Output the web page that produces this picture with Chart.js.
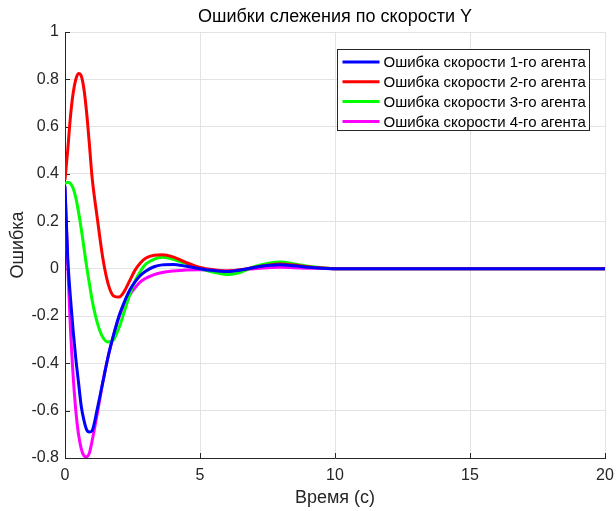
<!DOCTYPE html>
<html>
<head>
<meta charset="utf-8">
<script src="https://cdn.jsdelivr.net/npm/chart.js@4.4.1/dist/chart.umd.min.js"></script>
<style>
  html, body { margin: 0; padding: 0; background: #fff; }
  #wrap { width: 616px; height: 511px; }
</style>
</head>
<body>
<div id="wrap"><canvas id="errChart" width="616" height="511"></canvas></div>
<script>
// Время (с)
const times = [0, 0.1, 0.2, 0.3, 0.4, 0.5, 0.6, 0.7, 0.8, 0.9, 1.0, 1.2, 1.4, 1.6, 1.8, 2.0,
  2.2, 2.4, 2.6, 2.8, 3.0, 3.3, 3.6, 4.0, 4.5, 5.0, 5.5, 6.0, 6.5, 7.0, 7.5, 8.0, 8.5,
  9.0, 9.5, 10, 11, 12, 14, 16, 18, 20];

// ошибки скорости по агентам
const agent1 = [0.35, 0.05, -0.12, -0.26, -0.38, -0.48, -0.58, -0.64, -0.68, -0.69, -0.685,
  -0.59, -0.48, -0.37, -0.28, -0.20, -0.14, -0.09, -0.055, -0.028, -0.01, 0.008, 0.016, 0.018,
  0.01, 0.0, -0.008, -0.012, -0.006, 0.005, 0.013, 0.017, 0.012, 0.006, 0.002, 0, 0, 0, 0, 0, 0, 0];
const agent2 = [0.375, 0.50, 0.64, 0.74, 0.80, 0.825, 0.815, 0.76, 0.66, 0.53, 0.39,
  0.21, 0.045, -0.065, -0.115, -0.12, -0.095, -0.05, -0.005, 0.025, 0.045, 0.057, 0.059, 0.05,
  0.025, 0.005, -0.005, -0.01, -0.005, 0.005, 0.015, 0.02, 0.015, 0.008, 0.003, 0, 0, 0, 0, 0, 0, 0];
const agent3 = [0.36, 0.365, 0.36, 0.34, 0.30, 0.24, 0.17, 0.09, 0.01, -0.06, -0.13,
  -0.23, -0.29, -0.31, -0.30, -0.25, -0.18, -0.11, -0.05, -0.01, 0.02, 0.04, 0.048, 0.04,
  0.02, 0.0, -0.015, -0.025, -0.015, 0.008, 0.022, 0.028, 0.02, 0.01, 0.004, 0, 0, 0, 0, 0, 0, 0];
const agent4 = [0.34, 0.02, -0.25, -0.45, -0.60, -0.70, -0.76, -0.79, -0.795, -0.78, -0.73,
  -0.61, -0.48, -0.37, -0.28, -0.205, -0.15, -0.11, -0.08, -0.055, -0.04, -0.025, -0.016, -0.01,
  -0.006, -0.005, -0.007, -0.01, -0.006, 0.0, 0.004, 0.006, 0.004, 0.002, 0.001, 0, 0, 0, 0, 0, 0, 0];

const seriesNames = ['Ошибка скорости 1-го агента', 'Ошибка скорости 2-го агента',
  'Ошибка скорости 3-го агента', 'Ошибка скорости 4-го агента'];
const seriesColors = ['#0000ff', '#ff0000', '#00ff00', '#ff00ff'];

const xTicks = [0, 5, 10, 15, 20];
const yTicks = [-0.8, -0.6, -0.4, -0.2, 0, 0.2, 0.4, 0.6, 0.8, 1];

const FONT = 'Liberation Sans, Arial, sans-serif';
const TEXT = '#262626';

const toPoints = vals => times.map((t, i) => ({ x: t, y: vals[i] }));
const datasets = [agent1, agent2, agent3, agent4].map((vals, i) => ({
  label: seriesNames[i],
  data: toPoints(vals),
  borderColor: seriesColors[i],
  backgroundColor: seriesColors[i],
  borderWidth: 3,
  pointRadius: 0,
  cubicInterpolationMode: 'monotone',
  fill: false
}));

// заголовок, внутренние засечки и легенда, как в MATLAB
const matlabDeco = {
  id: 'matlabDeco',
  beforeDatasetsDraw(chart) {
    const c = chart.ctx, a = chart.chartArea;
    const xs = chart.scales.x, ys = chart.scales.y;
    c.save();
    c.strokeStyle = TEXT;
    c.lineWidth = 1;
    c.beginPath();
    xTicks.forEach(v => {
      const px = Math.round(xs.getPixelForValue(v)) + 0.5;
      c.moveTo(px, a.bottom); c.lineTo(px, a.bottom - 5);
    });
    yTicks.forEach(v => {
      const py = Math.round(ys.getPixelForValue(v)) + 0.5;
      c.moveTo(a.left, py); c.lineTo(a.left + 5, py);
    });
    c.stroke();
    c.restore();
  },
  afterDraw(chart) {
    const c = chart.ctx;
    const a = chart.chartArea;
    c.save();
    c.fillStyle = '#000';
    c.font = '18px ' + FONT;
    c.textAlign = 'center';
    c.textBaseline = 'middle';
    c.fillText('Ошибки слежения по скорости Y', (a.left + a.right) / 2, 17);

    // легенда
    const bx = 337.5, by = 49.5, bw = 252, bh = 81;
    c.fillStyle = '#fff';
    c.fillRect(bx, by, bw, bh);
    c.strokeStyle = '#262626';
    c.lineWidth = 1;
    c.strokeRect(bx, by, bw, bh);
    c.font = '15px ' + FONT;
    c.textAlign = 'left';
    chart.data.datasets.forEach((ds, i) => {
      const yy = by + 12.5 + i * 19.8;
      c.strokeStyle = ds.borderColor;
      c.lineWidth = 3;
      c.beginPath();
      c.moveTo(bx + 5, yy);
      c.lineTo(bx + 42, yy);
      c.stroke();
      c.fillStyle = '#000';
      c.fillText(ds.label, bx + 46, yy + 1);
    });
    c.restore();
  }
};

new Chart(document.getElementById('errChart'), {
  type: 'line',
  data: { datasets },
  plugins: [matlabDeco],
  options: {
    responsive: false,
    animation: false,
    layout: { padding: { top: 32, right: 11, left: 0, bottom: 0 } },
    plugins: { legend: { display: false }, title: { display: false }, tooltip: { enabled: false } },
    scales: {
      x: {
        type: 'linear',
        min: 0, max: 20,
        afterBuildTicks: s => { s.ticks = xTicks.map(v => ({ value: v })); },
        afterFit: s => { s.height = 53; s.paddingLeft = 0; s.paddingRight = 0; },
        grid: { color: '#e3e3e3', drawTicks: false },
        border: { color: TEXT, width: 1 },
        ticks: { color: TEXT, font: { family: FONT, size: 16 }, padding: 8, maxRotation: 0 },
        title: { display: true, text: 'Время (с)', color: TEXT, font: { family: FONT, size: 18 }, padding: { top: 0, bottom: 2 } }
      },
      y: {
        min: -0.8, max: 1,
        afterBuildTicks: s => { s.ticks = yTicks.map(v => ({ value: v })); },
        afterFit: s => { s.width = 65; s.paddingTop = 0; s.paddingBottom = 0; },
        grid: { color: '#e3e3e3', drawTicks: false },
        border: { color: TEXT, width: 1 },
        ticks: { color: TEXT, font: { family: FONT, size: 16 }, padding: 6, callback: v => String(Math.round(v * 10) / 10) },
        title: { display: true, text: 'Ошибка', color: TEXT, font: { family: FONT, size: 18 }, padding: { top: 7, bottom: 0 } }
      }
    }
  }
});
</script>
</body>
</html>
